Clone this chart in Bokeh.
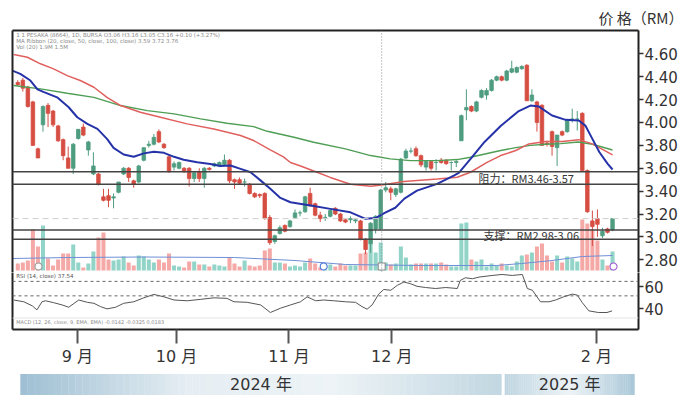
from bokeh.plotting import figure
from bokeh.models import (Range1d, LinearAxis, FixedTicker, Span, Label,
                          NumeralTickFormatter)
from bokeh.layouts import column
from bokeh.embed import file_html
from bokeh.resources import INLINE
from bokeh.core.properties import value

# ---------------- data ----------------
opens = [4.35, 4.37, 4.31, 4.18, 3.77, 3.98, 4.15, 4.10, 3.97, 3.85,
         3.69, 3.60, 3.86, 3.96, 3.76, 3.55, 3.55, 3.35, 3.36, 3.34,
         3.39, 3.55, 3.60, 3.49, 3.48, 3.67, 3.80, 3.81, 3.92, 3.81,
         3.70, 3.61, 3.60, 3.60, 3.60, 3.51, 3.57, 3.51, 3.60, 3.62,
         3.62, 3.63, 3.67, 3.50, 3.50, 3.48, 3.46, 3.38, 3.37, 3.38,
         3.17, 2.96, 3.03, 3.10, 3.09, 3.17, 3.21, 3.22, 3.38, 3.29,
         3.19, 3.17, 3.18, 3.25, 3.20, 3.15, 3.15, 3.14, 3.14, 2.98,
         2.94, 3.07, 3.07, 3.41, 3.42, 3.37, 3.39, 3.69, 3.75, 3.77,
         3.71, 3.61, 3.66, 3.65, 3.67, 3.67, 3.65, 3.65, 3.84, 4.11,
         4.14, 4.10, 4.22, 4.24, 4.28, 4.37, 4.40, 4.37, 4.44, 4.44,
         4.47, 4.50, 4.19, 4.18, 4.15, 3.82, 3.92, 3.78, 3.92, 3.92,
         4.03, 4.03, 4.08, 3.58, 3.14, 3.16, 3.01, 3.07, 3.06]
highs = [4.37, 4.39, 4.32, 4.19, 3.78, 4.15, 4.17, 4.11, 3.98, 3.86,
         3.79, 3.82, 3.94, 3.99, 3.84, 3.74, 3.56, 3.42, 3.42, 3.38,
         3.48, 3.61, 3.61, 3.50, 3.63, 3.78, 3.84, 3.90, 3.94, 3.82,
         3.72, 3.66, 3.66, 3.61, 3.61, 3.57, 3.60, 3.61, 3.61, 3.65,
         3.66, 3.72, 3.68, 3.51, 3.52, 3.51, 3.47, 3.39, 3.38, 3.39,
         3.19, 3.02, 3.10, 3.11, 3.15, 3.24, 3.23, 3.36, 3.43, 3.30,
         3.22, 3.20, 3.24, 3.26, 3.21, 3.16, 3.18, 3.16, 3.15, 2.99,
         3.13, 3.19, 3.42, 3.48, 3.44, 3.43, 3.69, 3.77, 3.78, 3.79,
         3.72, 3.67, 3.67, 3.68, 3.69, 3.68, 3.66, 3.67, 4.07, 4.29,
         4.15, 4.19, 4.29, 4.30, 4.38, 4.41, 4.41, 4.46, 4.54, 4.49,
         4.50, 4.51, 4.29, 4.19, 4.16, 3.84, 3.93, 3.89, 3.93, 4.02,
         4.12, 4.10, 4.09, 3.59, 3.23, 3.24, 3.08, 3.08, 3.16]
lows = [4.32, 4.27, 4.13, 3.80, 3.69, 3.92, 3.96, 3.96, 3.83, 3.67,
        3.60, 3.55, 3.85, 3.88, 3.71, 3.54, 3.45, 3.31, 3.26, 3.25,
        3.38, 3.54, 3.48, 3.43, 3.47, 3.66, 3.78, 3.80, 3.82, 3.77,
        3.56, 3.58, 3.59, 3.56, 3.44, 3.48, 3.48, 3.43, 3.58, 3.61,
        3.61, 3.62, 3.47, 3.42, 3.46, 3.44, 3.37, 3.34, 3.34, 3.15,
        2.93, 2.94, 3.02, 3.04, 3.08, 3.16, 3.18, 3.21, 3.27, 3.18,
        3.13, 3.14, 3.17, 3.19, 3.13, 3.12, 3.12, 3.12, 2.97, 2.85,
        2.86, 3.03, 3.06, 3.39, 3.32, 3.35, 3.38, 3.68, 3.73, 3.70,
        3.61, 3.58, 3.58, 3.58, 3.64, 3.63, 3.58, 3.61, 3.84, 4.02,
        4.09, 4.09, 4.21, 4.20, 4.27, 4.36, 4.36, 4.36, 4.43, 4.43,
        4.46, 4.19, 4.18, 3.92, 3.80, 3.79, 3.71, 3.62, 3.88, 3.91,
        4.00, 3.93, 3.58, 3.21, 2.92, 3.00, 2.99, 3.03, 3.05]
closes = [4.33, 4.30, 4.14, 3.80, 3.69, 4.14, 4.08, 3.98, 3.84, 3.71,
          3.60, 3.81, 3.94, 3.89, 3.83, 3.62, 3.46, 3.32, 3.32, 3.35,
          3.48, 3.60, 3.52, 3.46, 3.62, 3.78, 3.81, 3.87, 3.83, 3.78,
          3.57, 3.64, 3.65, 3.57, 3.51, 3.56, 3.51, 3.60, 3.59, 3.64,
          3.65, 3.67, 3.49, 3.48, 3.47, 3.48, 3.38, 3.35, 3.36, 3.16,
          2.95, 3.01, 3.08, 3.05, 3.14, 3.21, 3.21, 3.35, 3.27, 3.19,
          3.16, 3.17, 3.23, 3.20, 3.14, 3.13, 3.16, 3.15, 2.98, 2.89,
          3.12, 3.18, 3.41, 3.43, 3.39, 3.42, 3.68, 3.75, 3.75, 3.71,
          3.63, 3.66, 3.60, 3.65, 3.65, 3.64, 3.65, 3.66, 4.06, 4.13,
          4.10, 4.18, 4.28, 4.28, 4.37, 4.40, 4.37, 4.45, 4.47, 4.48,
          4.49, 4.19, 4.24, 4.00, 3.80, 3.81, 3.79, 3.89, 3.89, 4.02,
          4.03, 4.03, 3.58, 3.22, 3.09, 3.11, 3.05, 3.04, 3.16]
# volume, millions of shares
volumes = [0.7, 0.8, 1.0, 4.1, 2.4, 4.5, 1.2, 0.5, 1.1, 1.7,
           1.7, 2.6, 0.8, 0.3, 0.7, 1.9, 3.3, 3.8, 1.1, 1.0,
           1.1, 1.4, 0.8, 0.5, 1.5, 1.4, 1.1, 0.8, 1.1, 0.8,
           1.7, 0.5, 0.4, 0.3, 0.9, 0.9, 0.6, 0.6, 0.4, 0.6,
           0.5, 0.4, 1.3, 0.7, 0.4, 1.0, 0.5, 0.4, 0.5, 2.0,
           2.2, 0.8, 0.8, 0.7, 0.4, 0.5, 0.4, 0.8, 1.2, 0.7,
           0.3, 0.3, 0.6, 0.4, 0.7, 0.5, 0.5, 0.5, 1.7, 1.8,
           3.0, 1.8, 2.8, 0.8, 0.6, 0.7, 2.4, 1.3, 0.6, 0.7,
           0.7, 0.7, 0.7, 0.7, 0.8, 0.6, 0.4, 0.4, 4.7, 4.8,
           1.1, 0.9, 1.1, 0.4, 0.7, 0.5, 0.7, 0.5, 0.4, 0.9,
           1.5, 1.6, 1.8, 2.4, 2.7, 1.5, 0.9, 1.5, 0.8, 1.4,
           1.2, 0.9, 5.1, 4.7, 4.1, 3.0, 1.1, 0.5, 1.9]
vol_ma_x = [-1, 10, 25, 43, 55, 65, 80, 95, 100, 106, 112, 118]
vol_ma_y = [1.2, 1.3, 1.35, 1.3, 1.0, 0.6, 0.5, 0.5, 0.7, 1.0, 1.4, 1.5]

ma_blue_x = [-1.45, 0.5, 2.5, 3.9, 5.2, 7.8, 10.1, 11.8, 13.8, 15.8, 17.7, 19.0, 21.0,
             23.0, 25.0, 27.0, 29.0, 31.0, 32.9, 35.6, 38.2, 40.2, 42.2, 44.2, 46.2,
             48.2, 50.1, 52.1, 54.1, 58.1, 62.0, 66.0, 69.0, 71.0, 72.8, 74.9, 76.7,
             79.2, 83.2, 86.5, 87.5, 90.0, 92.6, 95.8, 99.4, 101.7, 103.4, 106.0,
             108.7, 111.3, 112.6, 114.0, 115.4, 117.0, 118.0]
ma_blue_y = [4.46, 4.425, 4.367, 4.29, 4.265, 4.22, 4.133, 4.046, 3.988, 3.944, 3.857,
             3.778, 3.72, 3.70, 3.73, 3.745, 3.735, 3.70, 3.675, 3.652, 3.638, 3.62,
             3.624, 3.595, 3.565, 3.492, 3.42, 3.341, 3.303, 3.274, 3.245, 3.215,
             3.158, 3.165, 3.21, 3.255, 3.335, 3.405, 3.464, 3.536, 3.56, 3.69, 3.83,
             3.97, 4.10, 4.148, 4.139, 4.061, 4.023, 4.017, 3.973, 3.857, 3.74,
             3.64, 3.589]
ma_red_x = [-0.8, 1.9, 4.5, 7.1, 9.8, 12.4, 15.1, 17.7, 20.4, 24.3, 28.3, 33.6, 38.9,
            44.2, 46.8, 50.1, 52.7, 54.1, 56.1, 59.1, 62.0, 66.0, 70.0, 72.6, 76.6,
            83.2, 87.2, 89.8, 93.1, 95.8, 98.8, 101.4, 104.7, 108.0, 111.3, 114.0,
            118.0]
ma_red_y = [4.594, 4.57, 4.513, 4.469, 4.41, 4.367, 4.308, 4.22, 4.148, 4.09, 4.046,
            3.988, 3.944, 3.886, 3.842, 3.76, 3.70, 3.65, 3.62, 3.57, 3.52, 3.46,
            3.443, 3.455, 3.484, 3.507, 3.522, 3.565, 3.652, 3.711, 3.755, 3.813,
            3.833, 3.833, 3.85, 3.813, 3.717]
ma_green_x = [-0.8, 4.5, 9.8, 15.1, 20.4, 25.7, 31.0, 36.3, 41.5, 46.8, 49.5, 54.8,
              58.7, 65.0, 70.0, 73.9, 77.9, 83.2, 87.2, 89.8, 95.8, 98.8, 101.7,
              104.7, 107.7, 111.2, 114.0, 118.0]
ma_green_y = [4.323, 4.294, 4.256, 4.22, 4.148, 4.104, 4.075, 4.032, 3.993, 3.964,
              3.923, 3.871, 3.827, 3.77, 3.711, 3.682, 3.667, 3.667, 3.676, 3.696,
              3.755, 3.78, 3.80, 3.81, 3.815, 3.83, 3.81, 3.76]

rsi_x = [-0.8, 1.2, 2.9, 3.8, 4.8, 5.5, 7.1, 8.8, 10.1, 12.1, 13.8, 15.1, 16.4, 17.7,
         19.4, 21.0, 23.0, 25.0, 27.0, 29.0, 31.0, 33.6, 36.3, 38.9, 41.5, 42.9,
         45.5, 48.2, 50.1, 52.1, 54.1, 56.1, 57.4, 59.1, 60.7, 62.7, 65.0, 67.0,
         68.3, 69.3, 70.3, 71.6, 72.6, 74.0, 75.3, 76.6, 77.9, 79.2, 80.9, 82.9,
         84.9, 87.2, 87.8, 88.8, 90.2, 91.5, 94.1, 96.1, 98.1, 100.1, 101.1, 102.1,
         103.7, 105.4, 106.7, 108.3, 110.0, 111.0, 112.0, 113.3, 115.2, 116.9, 117.9]
rsi_y = [48.1, 46.5, 42.7, 39.1, 46.5, 47.4, 45.7, 43.6, 41.5, 48.1, 46.0, 45.1, 42.1,
         40.0, 41.5, 45.1, 46.5, 50.1, 53.2, 51.0, 48.1, 47.4, 48.7, 50.1, 49.6,
         46.5, 46.0, 43.6, 36.7, 40.6, 43.6, 46.5, 51.0, 47.4, 48.1, 47.4, 46.5,
         46.0, 42.1, 39.7, 43.6, 53.5, 57.7, 57.0, 61.5, 64.5, 63.0, 60.6, 59.5,
         58.6, 59.5, 58.6, 66.0, 68.4, 67.5, 69.0, 70.5, 71.4, 70.5, 71.4, 58.6,
         57.0, 46.5, 46.5, 48.1, 51.0, 53.5, 52.6, 45.7, 38.2, 36.7, 36.7, 38.2]

resistance = [3.46, 3.57]
support = [2.98, 3.06]
cursor_bar = 72.2
event_x = [4.1, 60.7, 72.2, 118.2]
event_marker = ["circle", "circle", "square", "circle"]
event_color = ["#9a9a9a", "#4a72d8", "#8a8a8a", "#a05ad0"]

price_ticks = [2.8, 3.0, 3.2, 3.4, 3.6, 3.8, 4.0, 4.2, 4.4, 4.6]
rsi_ticks = [40, 60]
rsi_bands = [51.9, 65.1]
month_pos = [11.8, 31.5, 53.8, 74.2, 114.8]
month_labels = ["9 月", "10 月", "11 月", "12 月", "2 月"]
year_labels = ["2024 年", "2025 年"]
year_left = [0.5, 96.6]
year_right = [96.0, 122.4]

# ---------------- styling ----------------
UP, DOWN = "#4f9d80", "#d64d42"
VUP, VDOWN = "#93d4c9", "#f5a9a7"
FRAME = "#222222"
NUM_FONT = "DejaVu Sans"
CJK_FONT = "DejaVu Sans, Noto Sans CJK SC"

N = len(closes)
idx = list(range(N))
is_up = [c >= o for o, c in zip(opens, closes)]
body_col = [UP if u else DOWN for u in is_up]
vol_col = [VUP if u else VDOWN for u in is_up]
body_top = [max(o, c) for o, c in zip(opens, closes)]
body_bot = [min(o, c) for o, c in zip(opens, closes)]

X_RANGE = Range1d(-1.05, 123.15)


def blank_axis():
    return LinearAxis(ticker=FixedTicker(ticks=[]), major_tick_out=0, major_tick_in=0,
                      minor_tick_out=0, minor_tick_in=0, major_label_standoff=0,
                      major_label_text_font_size="0px", axis_line_color=FRAME,
                      axis_line_width=2)


def value_axis(ticks, fmt):
    return LinearAxis(ticker=FixedTicker(ticks=ticks), formatter=NumeralTickFormatter(format=fmt),
                      axis_line_color=FRAME, axis_line_width=2,
                      major_tick_out=5, major_tick_in=0, major_tick_line_color="#333333",
                      major_tick_line_width=1.5, minor_tick_out=0, minor_tick_in=0,
                      major_label_standoff=1, major_label_text_font=NUM_FONT,
                      major_label_text_font_size="15px", major_label_text_color="#333333")


# ---------------- price + volume ----------------
p1 = figure(width=690, height=272, x_range=X_RANGE, y_range=Range1d(2.689, 4.804),
            output_backend="svg", toolbar_location=None,
            x_axis_location=None, y_axis_location=None,
            min_border_left=12, min_border_right=52, min_border_top=30, min_border_bottom=0,
            outline_line_color=None, background_fill_color="white", border_fill_color="white")
p1.grid.visible = False
p1.extra_y_ranges = {"vol": Range1d(-0.2, 24.0)}

p1.add_layout(value_axis(price_ticks, "0.00"), "right")
p1.add_layout(blank_axis(), "left")
p1.add_layout(blank_axis(), "above")

p1.title.text = "价 格（RM）"
p1.title.align = "right"
p1.title.offset = -45
p1.title.standoff = 6
p1.title.text_font = "Noto Sans CJK SC"
p1.title.text_font_size = "15px"
p1.title.text_font_style = "normal"
p1.title.text_color = "#333333"

p1.vbar(x=idx, top=volumes, bottom=0, width=0.8, fill_color=vol_col, line_color=None,
        y_range_name="vol")
p1.line(vol_ma_x, vol_ma_y, line_color="#6f8fd6", line_width=1, y_range_name="vol")
p1.scatter(x=event_x, y=[0.4] * len(event_x), marker=event_marker, size=7,
           fill_color="white", line_color=event_color, line_width=1.1, y_range_name="vol")

for lv in resistance + support:
    p1.add_layout(Span(location=lv, dimension="width", line_color="#444444", line_width=1.5))
p1.add_layout(Span(location=closes[-1], dimension="width", line_color="#cfcfcf",
                   line_width=1, line_dash="6 4"))
p1.add_layout(Span(location=cursor_bar, dimension="height", line_color="#8a8a8a",
                   line_width=1, line_dash="1 2"))

p1.segment(x0=idx, y0=lows, x1=idx, y1=highs, line_color=body_col, line_width=1)
p1.vbar(x=idx, top=body_top, bottom=body_bot, width=0.7, fill_color=body_col,
        line_color=body_col, line_width=0.8)

p1.line(ma_green_x, ma_green_y, line_color="#4f9e55", line_width=1.4)
p1.line(ma_red_x, ma_red_y, line_color="#e0605e", line_width=1.5)
p1.line(ma_blue_x, ma_blue_y, line_color="#2633a8", line_width=2)

p1.add_layout(Label(x=91.4, y=sum(resistance) / 2, text="阻力：RM3.46-3.57",
                    text_font="Noto Sans CJK SC", text_font_size="11px",
                    text_baseline="middle", text_color="#333333"))
p1.add_layout(Label(x=92.4, y=sum(support) / 2, text="支撑：RM2.98-3.06",
                    text_font="Noto Sans CJK SC", text_font_size="11px",
                    text_baseline="middle", text_color="#333333"))

header = ["1 1 PESAKA (8664), 1D, BURSA  O3.06  H3.16  L3.05  C3.16  +0.10 (+3.27%)",
          "MA Ribbon (20, close, 50, close, 100, close)  3.59  3.72  3.76",
          "Vol (20)  1.9M  1.5M"]
for t, yy in zip(header, [4.769, 4.716, 4.664]):
    p1.add_layout(Label(x=-0.3, y=yy, text=t, text_font="DejaVu Sans", text_font_size="5.5px",
                        text_baseline="middle", text_color="#8a8a8a"))

# ---------------- RSI ----------------
p2 = figure(width=690, height=96, x_range=X_RANGE, y_range=Range1d(21.2, 73.2),
            output_backend="svg", toolbar_location=None,
            x_axis_location=None, y_axis_location=None,
            min_border_left=12, min_border_right=52, min_border_top=0, min_border_bottom=38,
            outline_line_color=None, background_fill_color="white", border_fill_color="white")
p2.grid.visible = False
p2.add_layout(value_axis(rsi_ticks, "0"), "right")
p2.add_layout(blank_axis(), "left")
xa = LinearAxis(ticker=FixedTicker(ticks=month_pos),
                major_label_overrides=dict(zip(month_pos, month_labels)),
                axis_line_color=FRAME, axis_line_width=2,
                major_tick_out=14, major_tick_in=0, major_tick_line_color="#555555",
                major_tick_line_width=2, minor_tick_out=0, minor_tick_in=0,
                major_label_standoff=3, major_label_text_font=CJK_FONT,
                major_label_text_font_size="16px", major_label_text_color="#333333")
p2.add_layout(xa, "below")

for b in rsi_bands:
    p2.add_layout(Span(location=b, dimension="width", line_color="#666666", line_width=1,
                       line_dash="3 3"))
p2.add_layout(Span(location=31.7, dimension="width", line_color="#e4e4e4", line_width=1))
p2.line(rsi_x, rsi_y, line_color="#555555", line_width=1)
p2.add_layout(Label(x=-0.3, y=69.6, text="RSI (14, close) 37.54", text_font="DejaVu Sans",
                    text_font_size="5.5px", text_baseline="middle", text_color="#555555"))
p2.add_layout(Label(x=-0.3, y=28.1,
                    text="MACD (12, 26, close, 9, EMA, EMA)  -0.0142  -0.0325  0.0183",
                    text_font="DejaVu Sans", text_font_size="5px", text_baseline="middle",
                    text_color="#8a8a8a"))

# ---------------- year bar ----------------
p3 = figure(width=690, height=33, x_range=X_RANGE, y_range=Range1d(0, 33),
            output_backend="svg", toolbar_location=None,
            x_axis_location=None, y_axis_location=None,
            min_border_left=12, min_border_right=52, min_border_top=0, min_border_bottom=0,
            outline_line_color=None, background_fill_color="white", border_fill_color="white")
p3.grid.visible = False

stops_by_year = [
    [(0.0, "#9ebfd3"), (0.35, "#e6eef3"), (0.65, "#edf3f6"), (1.0, "#c2d7e2")],
    [(0.0, "#bfd5e1"), (0.5, "#edf3f6"), (1.0, "#a9c7d8")],
]


def _rgb(h):
    return tuple(int(h[i:i + 2], 16) for i in (1, 3, 5))


def grad(stops, t):
    for (t0, c0), (t1, c1) in zip(stops[:-1], stops[1:]):
        if t0 <= t <= t1:
            f = (t - t0) / (t1 - t0)
            a, b = _rgb(c0), _rgb(c1)
            return "#%02x%02x%02x" % tuple(round(a[k] + (b[k] - a[k]) * f) for k in range(3))
    return stops[-1][1]


ql, qr, qc = [], [], []
nslice = 70
for L, R, stops in zip(year_left, year_right, stops_by_year):
    step = (R - L) / nslice
    for k in range(nslice):
        ql.append(L + k * step)
        qr.append(min(R, L + (k + 1) * step + 0.05))
        qc.append(grad(stops, (k + 0.5) / nslice))
p3.quad(left=ql, right=qr, bottom=6.5, top=27.5, fill_color=qc, line_color=None)
p3.text(x=[(l + r) / 2 for l, r in zip(year_left, year_right)], y=[17, 17], text=year_labels,
        text_font=value(CJK_FONT), text_font_size="16px", text_align="center",
        text_baseline="middle", text_color="#333333")

layout = column(p1, p2, p3, spacing=0)
open("out.html", "w").write(file_html(layout, INLINE))
